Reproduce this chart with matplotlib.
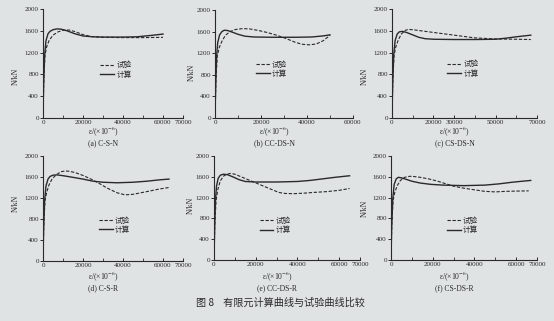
import matplotlib
matplotlib.use("Agg")
import matplotlib.pyplot as plt
from matplotlib.ticker import MultipleLocator

plt.rcParams['font.family'] = ['Liberation Serif', 'DejaVu Serif', 'Noto Sans CJK SC']
plt.rcParams['mathtext.fontset'] = 'stix'

W, H = 554, 321
BG = '#dfe3e3'
INK = '#2a2a2a'

# ---- data (strain x1e-6, load kN) ----
a_calc_x = [0, 300, 800, 1500, 2500, 3500, 5000, 7000, 9000, 12000, 16000, 20000, 25000, 30000, 40000, 47000, 54000, 60000]
a_calc_y = [0, 600, 1150, 1420, 1545, 1590, 1620, 1635, 1630, 1600, 1545, 1505, 1490, 1485, 1485, 1490, 1515, 1540]
a_test_x = [0, 400, 1000, 1800, 3000, 5000, 7500, 10000, 13000, 16000, 20000, 24000, 30000, 40000, 50000, 60000]
a_test_y = [0, 700, 1150, 1300, 1420, 1520, 1580, 1610, 1615, 1585, 1530, 1495, 1480, 1475, 1475, 1480]

b_calc_x = [0, 300, 700, 1200, 2000, 3000, 4000, 5500, 7500, 10000, 13000, 17000, 25000, 35000, 42000, 47000, 50000]
b_calc_y = [0, 600, 1150, 1400, 1540, 1600, 1625, 1620, 1590, 1550, 1515, 1500, 1495, 1495, 1500, 1520, 1540]
b_test_x = [0, 400, 1000, 1800, 3000, 4500, 6500, 9000, 12000, 15000, 19000, 23000, 27000, 31000, 35000, 38000, 41000, 44000, 47000, 50000]
b_test_y = [0, 700, 1150, 1300, 1420, 1530, 1600, 1640, 1655, 1650, 1620, 1580, 1530, 1470, 1400, 1365, 1355, 1370, 1430, 1530]

c_calc_x = [0, 300, 800, 1500, 2500, 3500, 5000, 7000, 10000, 13000, 16000, 20000, 30000, 40000, 50000, 55000, 60000, 67000]
c_calc_y = [0, 600, 1150, 1420, 1540, 1580, 1590, 1570, 1525, 1480, 1455, 1445, 1440, 1440, 1445, 1465, 1490, 1520]
c_test_x = [0, 400, 1000, 1800, 3000, 4500, 6500, 8000, 10000, 14000, 20000, 26000, 32000, 40000, 50000, 60000, 67000]
c_test_y = [0, 700, 1150, 1300, 1430, 1540, 1610, 1625, 1620, 1600, 1570, 1540, 1510, 1470, 1450, 1445, 1440]

d_calc_x = [0, 300, 800, 1500, 2500, 3500, 5000, 7000, 10000, 14000, 20000, 25000, 30000, 37000, 45000, 52000, 58000, 63000]
d_calc_y = [0, 600, 1150, 1430, 1560, 1610, 1635, 1640, 1625, 1600, 1560, 1520, 1500, 1490, 1500, 1520, 1545, 1560]
d_test_x = [0, 400, 1000, 1800, 3000, 4500, 6500, 9000, 11000, 13000, 16000, 20000, 24000, 28000, 32000, 37000, 41000, 45000, 49000, 53000, 58000, 63000]
d_test_y = [0, 700, 1150, 1300, 1450, 1560, 1640, 1700, 1715, 1710, 1685, 1630, 1560, 1480, 1390, 1300, 1260, 1270, 1300, 1330, 1370, 1400]

e_calc_x = [0, 300, 700, 1200, 2000, 3000, 4500, 6500, 9000, 12000, 15000, 20000, 30000, 40000, 46000, 52000, 58000, 65000]
e_calc_y = [0, 600, 1150, 1420, 1570, 1630, 1650, 1640, 1600, 1545, 1510, 1500, 1500, 1510, 1530, 1560, 1590, 1620]
e_test_x = [0, 400, 1000, 1800, 3000, 4500, 6000, 8000, 10000, 13000, 16000, 19000, 22000, 25000, 28000, 31000, 34000, 38000, 43000, 48000, 54000, 60000, 65000]
e_test_y = [0, 700, 1150, 1350, 1520, 1610, 1650, 1665, 1650, 1600, 1550, 1500, 1450, 1400, 1350, 1300, 1280, 1275, 1285, 1300, 1315, 1340, 1375]

f_calc_x = [0, 300, 800, 1500, 2500, 3500, 5000, 7000, 10000, 14000, 19000, 25000, 35000, 45000, 52000, 58000, 63000, 67000]
f_calc_y = [0, 600, 1150, 1450, 1560, 1590, 1580, 1555, 1515, 1480, 1455, 1440, 1430, 1440, 1465, 1495, 1515, 1530]
f_test_x = [0, 400, 1000, 1800, 3000, 4500, 6500, 9000, 11000, 14000, 18000, 22000, 26000, 30000, 35000, 40000, 45000, 50000, 55000, 60000, 66000]
f_test_y = [0, 700, 1150, 1300, 1430, 1530, 1590, 1610, 1605, 1590, 1560, 1520, 1470, 1420, 1380, 1350, 1320, 1310, 1320, 1325, 1330]

captions = ['(a) C-S-N', '(b) CC-DS-N', '(c) CS-DS-N', '(d) C-S-R', '(e) CC-DS-R', '(f) CS-DS-R']
xticks = [[0, 20000, 40000, 60000, 70000], [0, 20000, 40000, 60000], [0, 20000, 30000, 50000, 70000],
          [0, 20000, 40000, 60000, 70000], [0, 20000, 40000, 60000, 70000], [0, 20000, 40000, 60000, 70000]]
xmax = [70000, 60000, 70000, 70000, 70000, 70000]
yticks = [0, 400, 800, 1200, 1600, 2000]

panels = [
    (a_test_x, a_test_y, a_calc_x, a_calc_y),
    (b_test_x, b_test_y, b_calc_x, b_calc_y),
    (c_test_x, c_test_y, c_calc_x, c_calc_y),
    (d_test_x, d_test_y, d_calc_x, d_calc_y),
    (e_test_x, e_test_y, e_calc_x, e_calc_y),
    (f_test_x, f_test_y, f_calc_x, f_calc_y),
]

# pixel boxes: left, right, top, bottom
boxes = [(43, 183, 9, 118), (215, 353, 10, 118), (392, 537, 9, 118),
         (43, 183, 156, 261), (214, 360, 156, 260), (391, 537, 156, 260)]
legpos = [(0.52, 0.44), (0.41, 0.45), (0.49, 0.45), (0.51, 0.34), (0.42, 0.33), (0.49, 0.33)]
ylab = [(-0.165, 0.38), (-0.14, 0.42), (-0.16, 0.38), (-0.165, 0.55), (-0.135, 0.53), (-0.15, 0.5)]
xlab_y = [131, 131, 131, 276, 276, 276]
cap_y = [143, 143, 143, 288, 288, 288]

fig = plt.figure(figsize=(W / 100, H / 100), dpi=100)
fig.patch.set_facecolor(BG)

for i, (tx, ty, cx, cy) in enumerate(panels):
    l, r, t, b = boxes[i]
    ax = fig.add_axes([l / W, 1 - b / H, (r - l) / W, (b - t) / H])
    ax.set_facecolor(BG)
    ax.plot(tx, ty, ls=(0, (3, 1.5)), color=INK, lw=0.8, label='试验')
    ax.plot(cx, cy, ls='-', color=INK, lw=1.0, label='计算')
    ax.set_xlim(0, xmax[i])
    ax.set_ylim(0, 2000)
    ax.set_xticks(xticks[i])
    ax.set_xticklabels([str(v) for v in xticks[i]])
    ax.xaxis.set_minor_locator(MultipleLocator(10000))
    ax.set_yticks(yticks)
    for s in ['top', 'right']:
        ax.spines[s].set_visible(False)
    for s in ['left', 'bottom']:
        ax.spines[s].set_color(INK)
        ax.spines[s].set_linewidth(0.8)
    ax.tick_params(axis='x', direction='in', length=2.5, width=0.7, labelsize=5, pad=1.5, colors=INK)
    ax.tick_params(axis='x', which='minor', direction='in', length=2, width=0.6, colors=INK)
    ax.tick_params(axis='y', direction='out', length=2, width=0.7, labelsize=5, pad=1, colors=INK)
    ax.set_ylabel('N/kN', fontsize=5.5, color=INK)
    ax.yaxis.set_label_coords(*ylab[i])
    leg = ax.legend(loc='center', bbox_to_anchor=legpos[i], frameon=False,
                    handlelength=1.8, handletextpad=0.3, labelspacing=0.15, borderpad=0,
                    prop={'family': ['Noto Sans CJK SC'], 'size': 5.5})
    for txt in leg.get_texts():
        txt.set_color(INK)
    xc = (l + r) / 2 - 10
    fig.text(xc / W, 1 - xlab_y[i] / H, 'ε/(×10$^{-6}$)', fontsize=5.5, ha='center', va='center', color=INK)
    fig.text(xc / W, 1 - cap_y[i] / H, captions[i], fontsize=5.5, ha='center', va='center', color=INK)

fig.text(280 / W, 1 - 303 / H, '图 8    有限元计算曲线与试验曲线比较', fontsize=7.3,
         ha='center', va='center', color=INK, family=['Noto Sans CJK SC', 'DejaVu Sans'])

fig.savefig('out.png', dpi=100, facecolor=BG)
